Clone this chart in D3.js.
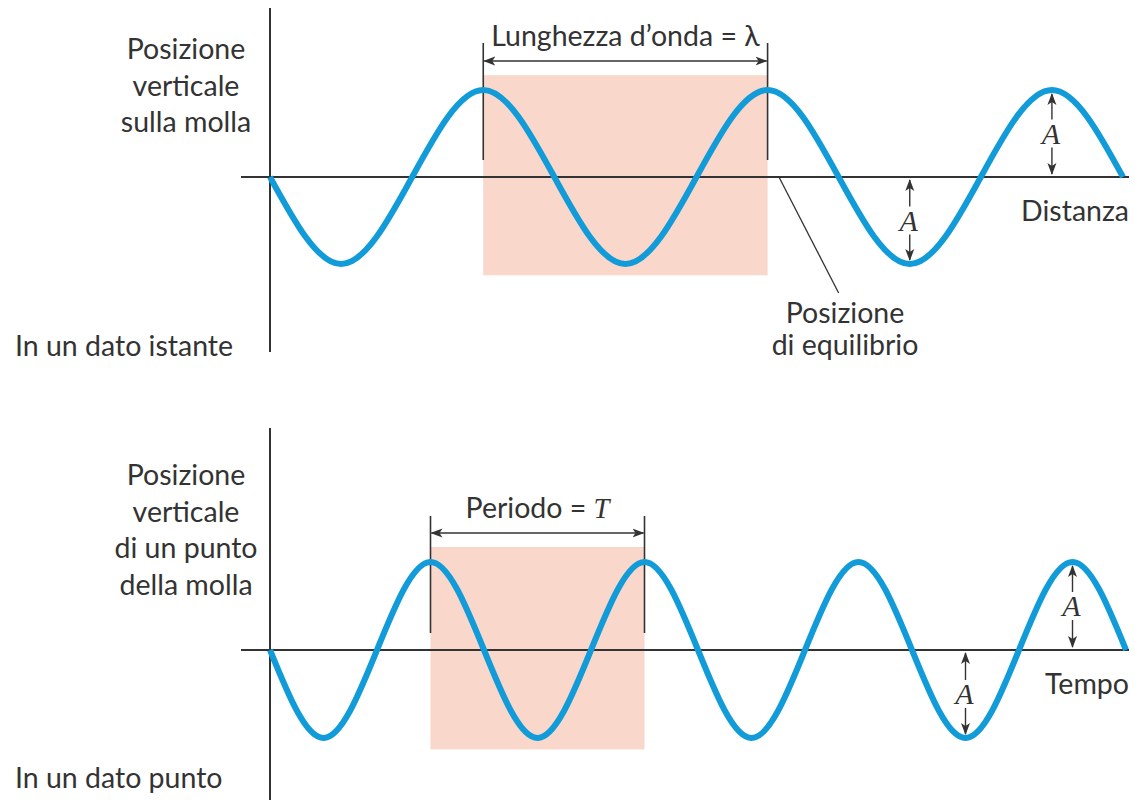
<!DOCTYPE html>
<html>
<head>
<meta charset="utf-8">
<script src="https://cdn.jsdelivr.net/npm/d3@7"></script>
<style>
  body { margin: 0; background: #fff; }
  text { font-family: Lato, "Noto Sans", sans-serif; fill: #333; }
  .serif { font-family: "Liberation Serif", "DejaVu Serif", serif; font-style: italic; }
</style>
</head>
<body>
<div id="chart"></div>
<script>
// dati --------------------------------------------------------------------------------------
// onda nello spazio: posizioni in lunghezze d'onda, spostamento in ampiezze
const spacePos = [0, 0.25, 0.5, 0.75, 1, 1.25, 1.5, 1.75, 2, 2.25, 2.5, 2.75, 3];
const spaceVal = [0, -1, 0, 1, 0, -1, 0, 1, 0, -1, 0, 1, 0];
// onda nel tempo: tempi in periodi
const timePos = [0, 0.25, 0.5, 0.75, 1, 1.25, 1.5, 1.75, 2, 2.25, 2.5, 2.75, 3, 3.25, 3.5, 3.75, 4];
const timeVal = [0, -1, 0, 1, 0, -1, 0, 1, 0, -1, 0, 1, 0, -1, 0, 1, 0];
// finestra evidenziata (inizio, fine) e frecce di ampiezza
const spaceWindow = [0.75, 1.75];
const timeWindow = [0.75, 1.75];
const spaceAmpMarks = [2.25, 2.75];
const timeAmpMarks = [3.25, 3.75];
// etichette
const spaceYLabel = ['Posizione', 'verticale', 'sulla molla'];
const timeYLabel = ['Posizione', 'verticale', 'di un punto', 'della molla'];
const spaceCaption = 'In un dato istante';
const timeCaption = 'In un dato punto';
const eqLabel = ['Posizione', 'di equilibrio'];

// svg ---------------------------------------------------------------------------------------
const width = 1135, height = 802;
const svg = d3.select('#chart').append('svg')
  .attr('width', width)
  .attr('height', height);

const defs = svg.append('defs');
defs.append('marker')
  .attr('id', 'arr')
  .attr('viewBox', '0 -5 12 10')
  .attr('refX', 11).attr('refY', 0)
  .attr('markerWidth', 12).attr('markerHeight', 10)
  .attr('markerUnits', 'userSpaceOnUse')
  .attr('orient', 'auto-start-reverse')
  .append('path')
  .attr('d', 'M0,-4.5L12,0L0,4.5L3,0Z')
  .attr('fill', '#333');

const blue = '#119bd8';
const ink = '#333';
const shade = '#f9d7ca';
const fontSize = 28.5;

// pannello ----------------------------------------------------------------------------------
const panel = cfg => {
  const g = svg.append('g');
  const x = d3.scaleLinear().domain(cfg.domain).range(cfg.xRange);
  const y = d3.scaleLinear().domain([-1, 1]).range([cfg.axisY + cfg.amp, cfg.axisY - cfg.amp]);

  // area evidenziata
  g.append('rect')
    .attr('x', x(cfg.win[0]))
    .attr('width', x(cfg.win[1]) - x(cfg.win[0]))
    .attr('y', y(1.17))
    .attr('height', y(-1.13) - y(1.17))
    .attr('fill', shade);

  // assi
  g.append('line')
    .attr('x1', 241).attr('x2', 1129)
    .attr('y1', y(0)).attr('y2', y(0))
    .attr('stroke', ink).attr('stroke-width', 2);
  g.append('line')
    .attr('x1', x(0)).attr('x2', x(0))
    .attr('y1', cfg.vTop).attr('y2', cfg.vBottom)
    .attr('stroke', ink).attr('stroke-width', 2);

  // righe di riferimento e freccia
  cfg.win.forEach(w => {
    g.append('line')
      .attr('x1', x(w)).attr('x2', x(w))
      .attr('y1', cfg.markTop).attr('y2', y(0) - 17)
      .attr('stroke', ink).attr('stroke-width', 1.6);
  });
  g.append('line')
    .attr('x1', x(cfg.win[0]) + 1).attr('x2', x(cfg.win[1]) - 1)
    .attr('y1', cfg.arrowY).attr('y2', cfg.arrowY)
    .attr('stroke', ink).attr('stroke-width', 1.6)
    .attr('marker-start', 'url(#arr)')
    .attr('marker-end', 'url(#arr)');
  const t = g.append('text')
    .attr('x', (x(cfg.win[0]) + x(cfg.win[1])) / 2)
    .attr('y', cfg.arrowY - 15)
    .attr('text-anchor', 'middle')
    .attr('font-size', fontSize);
  t.append('tspan').text(cfg.title[0]);
  t.append('tspan').attr('class', cfg.title[2] ? 'serif' : null).text(cfg.title[1]);

  // onda
  const line = d3.line()
    .x((d, i) => x(cfg.pos[i]))
    .y(d => y(d))
    .curve(d3.curveNatural);
  g.append('path')
    .attr('d', line(cfg.val))
    .attr('fill', 'none')
    .attr('stroke', blue)
    .attr('stroke-width', 6);

  // frecce di ampiezza
  cfg.amps.forEach(a => {
    const k = cfg.val[cfg.pos.indexOf(a)];
    const ax = x(a);
    const yPeak = y(k), y0 = y(0);
    const mid = (yPeak + y0) / 2;
    const dir = yPeak < y0 ? -1 : 1;
    g.append('line')
      .attr('x1', ax).attr('x2', ax)
      .attr('y1', mid + dir * 14).attr('y2', yPeak - dir * 4)
      .attr('stroke', ink).attr('stroke-width', 1.4)
      .attr('marker-end', 'url(#arr)');
    g.append('line')
      .attr('x1', ax).attr('x2', ax)
      .attr('y1', mid - dir * 14).attr('y2', y0 + dir * 3)
      .attr('stroke', ink).attr('stroke-width', 1.4)
      .attr('marker-end', 'url(#arr)');
    g.append('text')
      .attr('class', 'serif')
      .attr('x', ax - 1)
      .attr('y', mid + 10)
      .attr('text-anchor', 'middle')
      .attr('font-size', 30)
      .text('A');
  });

  // etichetta asse x
  g.append('text')
    .attr('x', 1129)
    .attr('y', y(0) + 44)
    .attr('text-anchor', 'end')
    .attr('font-size', fontSize)
    .text(cfg.xLabel);

  // etichetta asse y
  g.append('text')
    .attr('text-anchor', 'middle')
    .attr('font-size', fontSize)
    .selectAll('tspan')
    .data(cfg.yLabel)
    .join('tspan')
    .attr('x', 186)
    .attr('y', (d, i) => cfg.yLabelTop + i * 36.5)
    .text(d => d);

  // didascalia
  g.append('text')
    .attr('x', 15)
    .attr('y', cfg.captionY)
    .attr('font-size', fontSize)
    .text(cfg.caption);

  return { x, y, g };
};

const spacePanel = panel({
  domain: [0, 3], xRange: [270, 1123], axisY: 177, amp: 87,
  pos: spacePos, val: spaceVal, win: spaceWindow, amps: spaceAmpMarks,
  vTop: 8, vBottom: 352, markTop: 43, arrowY: 61,
  title: ['Lunghezza d\u2019onda = \u03bb', '', false],
  xLabel: 'Distanza', yLabel: spaceYLabel, yLabelTop: 59,
  caption: spaceCaption, captionY: 356
});

const timePanel = panel({
  domain: [0, 4], xRange: [270, 1126], axisY: 650, amp: 88,
  pos: timePos, val: timeVal, win: timeWindow, amps: timeAmpMarks,
  vTop: 428, vBottom: 800, markTop: 516, arrowY: 533,
  title: ['Periodo = ', 'T', true],
  xLabel: 'Tempo', yLabel: timeYLabel, yLabelTop: 485,
  caption: timeCaption, captionY: 788
});

// posizione di equilibrio -------------------------------------------------------------------
svg.append('line')
  .attr('x1', spacePanel.x(1.79)).attr('y1', spacePanel.y(0))
  .attr('x2', spacePanel.x(2.0)).attr('y2', spacePanel.y(0) + 116)
  .attr('stroke', ink).attr('stroke-width', 1.3);
svg.append('text')
  .attr('text-anchor', 'middle')
  .attr('font-size', fontSize)
  .selectAll('tspan')
  .data(eqLabel)
  .join('tspan')
  .attr('x', 845)
  .attr('y', (d, i) => 323 + i * 32)
  .text(d => d);
</script>
</body>
</html>
